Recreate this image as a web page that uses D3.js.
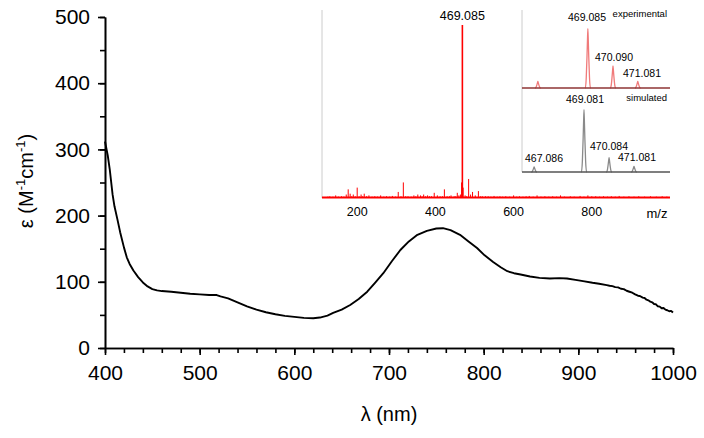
<!DOCTYPE html>
<html><head><meta charset="utf-8">
<script src="https://cdn.jsdelivr.net/npm/d3@7"></script>
<style>body{margin:0;background:#fff}svg{display:block;font-family:"Liberation Sans",Arial,sans-serif}</style>
</head><body>
<svg id="c" width="704" height="438"></svg>
<script>
// UV-vis absorption spectrum: wavelength (nm) and epsilon (M^-1 cm^-1)
const wavelength = [400,403,405,408,410,413,416,420,423,426,430,435,440,445,450,455,460,470,480,490,500,510,518,522,530,540,550,560,570,580,590,600,610,620,627,635,641,650,659,668,677,685,694,703,712,721,730,740,750,757,765,775,784,793,801,810,818,825,832,839,849,859,870,880,888,897,905,915,922,930,933,936,939,942,945,948,951,954,957,960,963,965,968,970,972,974,976,978,980,982,984,986,988,990,992,994,996,998,1000];
const epsilon =    [312,290,270,232,214,195,175,152,137,127,117,107,99,93,89,87,86,85,83.5,82,81,80,80,78,75,69,63,58,54,51,48.5,47,45.5,45,46,49,53,58,65,74,85,98,113,131,148,161,171,177,180.5,181,178,171,161,151,140,130,122,116,113,111,108,106,105,105.5,105,103,101,98.5,97,95,94,93.5,92,91.5,89.5,89,86.5,85,83.5,81,79,78.5,76,75.5,73,72,70,69,66.5,66,63,62.5,60,60.5,58,57,55.5,56,53.5];
const xTicks = [400,500,600,700,800,900,1000];
const yTicks = [0,100,200,300,400,500];

// ESI mass spectrum (inset): m/z and relative intensity (%)
const msMz =  [125,130,138,145,152,160,166,172,177,182,186,190,195,200,205,210,214,218,224,230,238,245,252,260,268,275,283,290,298,305,312,318,324,330,338,345,350,355,362,366,370,375,380,385,390,397,405,412,418,423,430,436,440,448,452,456,460,464,467,469,471,476,480,485,490,495,502,510,515,520,528,535,542,550,558,565,572,580,590,600,608,615,624,632,640,650,660,670,680,690,700,710,720,730,745,755,770,780,790,800,810,820,830,840,850,860,870,882,895,908,920,935,950,965,980,992];
const msInt = [0.8,1,0.8,1.5,0.8,1,0.8,2,5,2.5,1,2,1,6,1,2,1,2.5,1,1.5,0.8,1,0.8,1.5,0.8,1,0.8,1.2,0.8,3.5,1,9,1,1,0.8,1.5,1,2,1.5,1,2,1,1.5,1,1,3,1.5,1,1,5,1,1,1.5,1,1,3,1.5,2,9,100,6,1.5,1,11,2,3.5,1.5,4,1,1,1,1,0.8,1.2,0.8,1,0.8,1,0.8,1.5,0.8,1,0.8,1,1.2,0.8,1.5,0.8,1,0.8,1,0.8,1.5,0.8,1,0.8,1.2,0.8,1.5,1,1,0.8,1,0.8,1,0.8,1.2,0.8,1,0.8,1,0.8,1,0.8,1,0.8];
const msTicks = [200,400,600,800];

// Isotope pattern: experimental and simulated
const expMz = [467.085,469.085,470.090,471.081];
const expInt = [11,100,37,11];
const expLabels = ["","469.085","470.090","471.081"];
const simMz = [467.086,469.081,470.084,471.081];
const simInt = [8,100,23,9];
const simLabels = ["467.086","469.081","470.084","471.081"];

const svg = d3.select("#c");
const x = d3.scaleLinear([400,1000],[105,673]);
const y = d3.scaleLinear([0,500],[348,17]);
const fmt = d3.format("d");

const gxm = svg.append("g").attr("transform","translate(0,348)")
  .call(d3.axisBottom(x).tickValues(d3.range(400,1001,20)).tickSize(5).tickSizeOuter(0).tickFormat(""));
const gx = svg.append("g").attr("transform","translate(0,348)")
  .call(d3.axisBottom(x).tickValues(xTicks).tickSize(7).tickSizeOuter(0).tickPadding(10).tickFormat(fmt));
const gym = svg.append("g").attr("transform","translate(105,0)")
  .call(d3.axisLeft(y).tickValues(d3.range(0,501,50)).tickSize(5).tickSizeOuter(0).tickFormat(""));
const gy = svg.append("g").attr("transform","translate(105,0)")
  .call(d3.axisLeft(y).tickValues(yTicks).tickSize(7).tickSizeOuter(0).tickPadding(8).tickFormat(fmt));
[gxm,gx,gym,gy].forEach(g=>{
  g.selectAll("path,line").attr("stroke","#000").attr("stroke-width",1.6);
  g.selectAll("text").attr("font-size",21).attr("fill","#000").attr("font-family","Liberation Sans, Arial, sans-serif");
});
gx.selectAll("text").attr("dy","0.71em");

svg.append("text").attr("x",389).attr("y",421).attr("text-anchor","middle")
  .attr("font-size",20).text("λ (nm)");
const yl = svg.append("text").attr("transform","translate(33,181) rotate(-90)")
  .attr("text-anchor","middle").attr("font-size",20);
yl.append("tspan").text("ε (M");
yl.append("tspan").attr("font-size",13).attr("dy",-8).text("-1");
yl.append("tspan").attr("dy",8).text("cm");
yl.append("tspan").attr("font-size",13).attr("dy",-8).text("-1");
yl.append("tspan").attr("dy",8).text(")");

const uv = wavelength.map((w,i)=>[w,epsilon[i]]);
svg.append("path").datum(uv).attr("fill","none").attr("stroke","#000").attr("stroke-width",1.9)
  .attr("stroke-linejoin","round")
  .attr("d",d3.line().x(d=>x(d[0])).y(d=>y(d[1])));

// ---- inset mass spectrum
const xi = d3.scaleLinear([110,1000],[322,670]);
const yi = d3.scaleLinear([0,100],[198,25]);
svg.append("line").attr("x1",xi(110)).attr("x2",xi(110)).attr("y1",10).attr("y2",198)
  .attr("stroke","#ccc").attr("stroke-width",1);
svg.selectAll(".ms").data(msMz).join("line")
  .attr("x1",d=>xi(d)).attr("x2",d=>xi(d)).attr("y1",yi(0)).attr("y2",(d,i)=>yi(msInt[i]))
  .attr("stroke","#f00").attr("stroke-width",d=>d===469?1.6:1);
svg.append("line").attr("x1",xi(110)).attr("x2",xi(1000)).attr("y1",yi(0.3)).attr("y2",yi(0.3))
  .attr("stroke","#f00").attr("stroke-width",2);
svg.selectAll(".mst").data(msTicks).join("text").attr("x",d=>xi(d)).attr("y",216)
  .attr("text-anchor","middle").attr("font-size",12.5).text(d=>d);
svg.append("text").attr("x",657).attr("y",218).attr("text-anchor","middle").attr("font-size",13).text("m/z");
svg.append("text").attr("x",xi(469)).attr("y",20).attr("text-anchor","middle").attr("font-size",12.5).text("469.085");

// ---- isotope panel
const xe = d3.scaleLinear([466.45,472.37],[522,670]);
const ye = d3.scaleLinear([0,100],[88,26]);
const xs = d3.scaleLinear([466.601,472.521],[522,670]);
const ys = d3.scaleLinear([0,100],[172,107]);
svg.append("line").attr("x1",522).attr("x2",522).attr("y1",10).attr("y2",172)
  .attr("stroke","#ccc").attr("stroke-width",1);
const peak = (xsc,ysc,w)=>(m,h)=>d3.line().curve(d3.curveBasis)([[xsc(m-w*1.6),ysc(0)],[xsc(m-w),ysc(0)],[xsc(m),ysc(h)],[xsc(m),ysc(h)],[xsc(m+w),ysc(0)],[xsc(m+w*1.6),ysc(0)]]);
const pe = peak(xe,ye,0.07), ps = peak(xs,ys,0.07);
svg.selectAll(".pe").data(expMz).join("path").attr("d",(d,i)=>pe(d,expInt[i]))
  .attr("fill","none").attr("stroke","#f07a7a").attr("stroke-width",1.3);
svg.append("line").attr("x1",522).attr("x2",670).attr("y1",88).attr("y2",88)
  .attr("stroke","#8e3434").attr("stroke-width",1.3);
svg.selectAll(".ps").data(simMz).join("path").attr("d",(d,i)=>ps(d,simInt[i]))
  .attr("fill","none").attr("stroke","#8a8a8a").attr("stroke-width",1.3);
svg.append("line").attr("x1",522).attr("x2",670).attr("y1",172).attr("y2",172)
  .attr("stroke","#555").attr("stroke-width",1.3);

const expLblPos = [[0,0],[587,21],[614,61],[642,77]];
const simLblPos = [[544,162],[585,103],[609,150],[637,161]];
expLabels.forEach((t,i)=>{ if(t) svg.append("text").attr("x",expLblPos[i][0]).attr("y",expLblPos[i][1])
  .attr("text-anchor","middle").attr("font-size",10.5).text(t); });
simLabels.forEach((t,i)=>svg.append("text").attr("x",simLblPos[i][0]).attr("y",simLblPos[i][1])
  .attr("text-anchor","middle").attr("font-size",10.5).text(t));
svg.append("text").attr("x",667).attr("y",17).attr("text-anchor","end").attr("font-size",9.5).text("experimental");
svg.append("text").attr("x",667).attr("y",101).attr("text-anchor","end").attr("font-size",9.5).text("simulated");
</script>
</body></html>
